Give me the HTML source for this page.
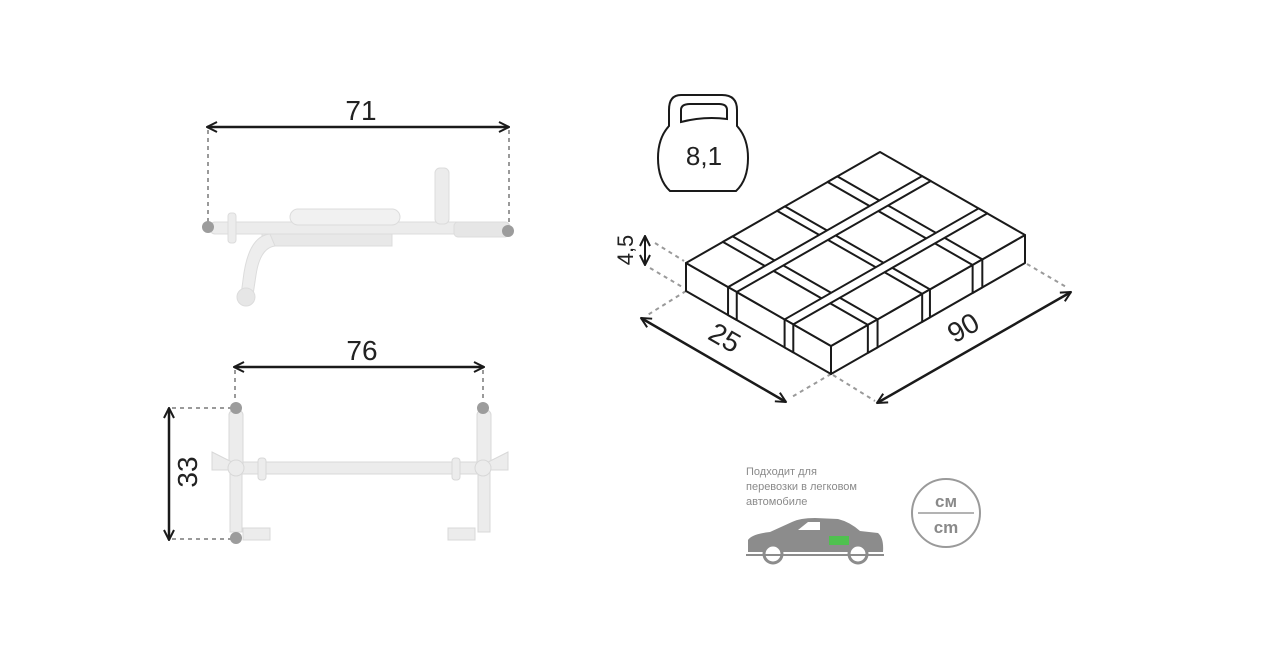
<!DOCTYPE html>
<html><head><meta charset="utf-8"><style>
html,body{margin:0;padding:0;background:#fff;}
svg{display:block;font-family:"Liberation Sans","DejaVu Sans",sans-serif;}
</style></head><body>
<svg id="s" width="1280" height="649" viewBox="0 0 1280 649" xmlns="http://www.w3.org/2000/svg">
<defs>
<marker id="ah" viewBox="0 0 12 12" refX="11" refY="6" markerWidth="12" markerHeight="12" markerUnits="userSpaceOnUse" orient="auto-start-reverse">
<path d="M1,1 L11,6 L1,11" fill="none" stroke="#1a1a1a" stroke-width="2"/>
</marker>
</defs>
<g stroke="#9a9a9a" stroke-width="2" stroke-dasharray="4,4">
<line x1="208" y1="130" x2="208" y2="224"/><line x1="509" y1="130" x2="509" y2="228"/>
</g>
<line x1="207" y1="127" x2="509" y2="127" stroke="#1a1a1a" stroke-width="2.5" marker-start="url(#ah)" marker-end="url(#ah)"/>
<text x="361" y="120" font-size="28" text-anchor="middle" fill="#222">71</text>
<g fill="#ececec" stroke="#dcdcdc" stroke-width="1">
<rect x="210" y="222" width="300" height="12" rx="5"/>
<rect x="290" y="209" width="110" height="16" rx="8" fill="#f1f1f1"/>
<rect x="435" y="168" width="14" height="56" rx="5"/>
<rect x="454" y="222" width="55" height="15" rx="4" fill="#e6e6e6"/>
<rect x="262" y="234" width="130" height="12" fill="#e8e8e8"/>
<path d="M270,234 Q248,236 243,280 L241,295 L253,295 L256,275 Q260,248 275,246 Z" fill="#ededed"/>
<circle cx="246" cy="297" r="9" fill="#e6e6e6"/>
<rect x="228" y="213" width="8" height="30" rx="3"/>
</g>
<circle cx="208" cy="227" r="6" fill="#9c9c9c"/><circle cx="508" cy="231" r="6" fill="#9c9c9c"/>
<g stroke="#9a9a9a" stroke-width="2" stroke-dasharray="4,4">
<line x1="235" y1="370" x2="235" y2="402"/><line x1="483" y1="370" x2="483" y2="402"/>
<line x1="172" y1="408" x2="232" y2="408"/><line x1="172" y1="539" x2="232" y2="539"/>
</g>
<line x1="234" y1="367" x2="484" y2="367" stroke="#1a1a1a" stroke-width="2.5" marker-start="url(#ah)" marker-end="url(#ah)"/>
<text x="362" y="360" font-size="28" text-anchor="middle" fill="#222">76</text>
<line x1="169" y1="408" x2="169" y2="540" stroke="#1a1a1a" stroke-width="2.5" marker-start="url(#ah)" marker-end="url(#ah)"/>
<text transform="translate(197,472) rotate(-90)" font-size="28" text-anchor="middle" fill="#222">33</text>
<g fill="#ececec" stroke="#d8d8d8" stroke-width="1">
<rect x="240" y="462" width="240" height="12"/>
<rect x="229" y="410" width="14" height="60" rx="5"/>
<rect x="477" y="410" width="14" height="60" rx="5"/>
<rect x="230" y="470" width="12" height="62"/><rect x="478" y="470" width="12" height="62"/>
<path d="M212,452 L232,462 L232,470 L212,470 Z"/><path d="M508,452 L488,462 L488,470 L508,470 Z"/>
<circle cx="236" cy="468" r="8"/><circle cx="483" cy="468" r="8"/>
<rect x="258" y="458" width="8" height="22" rx="3"/><rect x="452" y="458" width="8" height="22" rx="3"/>
<rect x="243" y="528" width="27" height="12"/><rect x="448" y="528" width="27" height="12"/>
</g>
<circle cx="236" cy="408" r="6" fill="#9c9c9c"/><circle cx="483" cy="408" r="6" fill="#9c9c9c"/>
<circle cx="236" cy="538" r="6" fill="#9c9c9c"/>
<path d="M681,95 L722,95 Q737,95 737,110 L737,126 Q748,138 748,158 Q748,180 736,191 L670,191 Q658,180 658,158 Q658,138 669,126 L669,110 Q669,95 681,95 Z" fill="none" stroke="#1a1a1a" stroke-width="2"/>
<path d="M681,122 L681,110 Q681,104 690,104 L719,104 Q727,104 727,110 L727,119 Q704,116 681,122 Z" fill="none" stroke="#1a1a1a" stroke-width="2"/>
<text x="704" y="165" font-size="26" text-anchor="middle" fill="#222">8,1</text>
<g stroke="#9a9a9a" stroke-width="2" stroke-dasharray="4,4" fill="none">
<line x1="655" y1="243" x2="684" y2="261"/><line x1="650" y1="268" x2="684" y2="288"/>
<line x1="686" y1="291" x2="646" y2="316"/><line x1="831" y1="374" x2="790" y2="398"/>
<line x1="833" y1="375" x2="875" y2="401"/><line x1="1027" y1="264" x2="1068" y2="288"/>
</g>
<line x1="645" y1="236" x2="645" y2="265" stroke="#1a1a1a" stroke-width="2" marker-start="url(#ah)" marker-end="url(#ah)"/>
<text transform="translate(633,250) rotate(-90)" font-size="22" text-anchor="middle" fill="#222">4,5</text>
<line x1="641" y1="318" x2="786" y2="402" stroke="#1a1a1a" stroke-width="2.5" marker-start="url(#ah)" marker-end="url(#ah)"/>
<text transform="translate(720,346) rotate(30)" font-size="28" text-anchor="middle" fill="#222">25</text>
<line x1="877" y1="403" x2="1071" y2="292" stroke="#1a1a1a" stroke-width="2.5" marker-start="url(#ah)" marker-end="url(#ah)"/>
<text transform="translate(968,336) rotate(-30)" font-size="28" text-anchor="middle" fill="#222">90</text>
<g id="box" stroke="#1a1a1a" stroke-width="2" fill="#fff" stroke-linejoin="round"></g>
<text x="746" y="475" font-size="11" fill="#8a8a8a">Подходит для</text>
<text x="746" y="490" font-size="11" fill="#8a8a8a">перевозки в легковом</text>
<text x="746" y="505" font-size="11" fill="#8a8a8a">автомобиле</text>
<path d="M748,552 L748,540 Q752,534 770,532 L792,522 Q800,518 815,518 L838,519 Q850,522 860,531 L878,533 Q884,538 883,552 Z" fill="#8c8c8c"/>
<path d="M798,530 L808,522 L820,522 L820,530 Z" fill="#fff"/>
<rect x="829" y="536" width="20" height="9" fill="#4fc14f"/>
<circle cx="773" cy="554" r="9" fill="#fff" stroke="#8c8c8c" stroke-width="3"/>
<circle cx="858" cy="554" r="9" fill="#fff" stroke="#8c8c8c" stroke-width="3"/>
<line x1="746" y1="555" x2="884" y2="555" stroke="#8c8c8c" stroke-width="2"/>
<circle cx="946" cy="513" r="34" fill="none" stroke="#9a9a9a" stroke-width="2"/>
<line x1="918" y1="513" x2="974" y2="513" stroke="#9a9a9a" stroke-width="1.5"/>
<text x="946" y="507" font-size="17" font-weight="bold" text-anchor="middle" fill="#8a8a8a">см</text>
<text x="946" y="533" font-size="17" font-weight="bold" text-anchor="middle" fill="#8a8a8a">cm</text>
</svg>
<script>
var L=[686,263],F=[831,346],B=[880,152],H=28,g=document.getElementById('box');
function P(u,v,d){return [L[0]+u*(F[0]-L[0])+v*(B[0]-L[0]),L[1]+u*(F[1]-L[1])+v*(B[1]-L[1])+(d||0)];}
function poly(pts){var p=document.createElementNS('http://www.w3.org/2000/svg','polygon');p.setAttribute('points',pts.map(function(a){return a.join(',')}).join(' '));g.appendChild(p);}
poly([P(0,0),P(1,0),P(1,0,H),P(0,0,H)]);
poly([P(1,0),P(1,1),P(1,1,H),P(1,0,H)]);
poly([P(0,0),P(1,0),P(1,1),P(0,1)]);
[[0.19,0.24],[0.47,0.51],[0.73,0.78]].forEach(function(s){
 poly([P(0,s[0]),P(1,s[0]),P(1,s[1]),P(0,s[1])]);
 poly([P(1,s[0]),P(1,s[1]),P(1,s[1],H),P(1,s[0],H)]);
});
[[0.29,0.35],[0.68,0.74]].forEach(function(s){
 poly([P(s[0],0),P(s[1],0),P(s[1],1),P(s[0],1)]);
 poly([P(s[0],0),P(s[1],0),P(s[1],0,H),P(s[0],0,H)]);
});
</script>
</body></html>
